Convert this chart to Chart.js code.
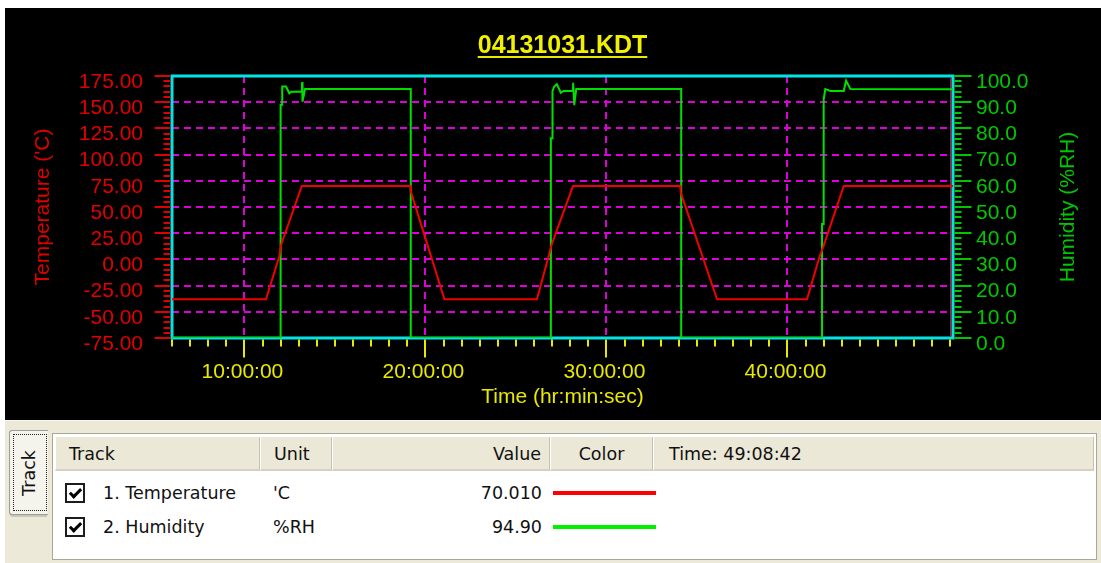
<!DOCTYPE html>
<html>
<head>
<meta charset="utf-8">
<title>04131031.KDT</title>
<script src="https://cdn.jsdelivr.net/npm/chart.js@4.4.1/dist/chart.umd.min.js"></script>
<style>
  body { margin: 0; width: 1101px; height: 563px; overflow: hidden; position: relative; background: #fff; font-family: "DejaVu Sans", sans-serif; }
  #caixaGrafico { position: absolute; left: 5px; top: 8px; width: 1096px; height: 412px; background: #000; }
  #painel { position: absolute; left: 5px; top: 420px; width: 1096px; height: 143px; background: #ece9d8; border-top: 1px solid #f8f7f0; box-sizing: border-box; }
  #aba { position: absolute; left: 9px; top: 430px; width: 39px; height: 85px; background: #f4f3ec; border: 1px solid #9a9f9c; border-right: none; border-radius: 3px 0 0 3px; box-sizing: border-box; box-shadow: 0 3px 0 -1px #c9c6b6; }
  #aba .foco { position: absolute; left: 3px; top: 3px; right: 1px; bottom: 3px; border: 1px dotted #222; }
  #aba span { position: absolute; left: 50%; top: 50%; transform: translate(-50%, -50%) rotate(-90deg); font-size: 17.5px; color: #111; white-space: nowrap; }
  #tabela { position: absolute; left: 52px; top: 433px; width: 1045px; height: 127px; background: #fff; border: 1px solid #aca899; box-sizing: border-box; }
  .cab { position: absolute; top: 437px; height: 34px; line-height: 34px; background: #ebe8d7; border-left: 1px solid #fff; border-right: 1px solid #c5c2b2; border-bottom: 2px solid #d6d2c2; box-sizing: border-box; font-size: 17.5px; color: #111; white-space: nowrap; }
  .lin { position: absolute; height: 22px; line-height: 22px; font-size: 17.5px; color: #111; white-space: nowrap; }
  .caixa { position: absolute; left: 65px; width: 20px; height: 20px; border: 2px solid #1c1c1c; box-sizing: border-box; background: #fff; }
  .caixa::after { content: ""; position: absolute; left: 5px; top: 1px; width: 4px; height: 9px; border: solid #000; border-width: 0 3px 3px 0; transform: rotate(45deg); }
  .cor { position: absolute; left: 553px; width: 103px; height: 4px; }
</style>
</head>
<body>
<div id="caixaGrafico"><canvas id="grafico"></canvas></div>

<div id="painel"></div>
<div id="aba"><div class="foco"></div><span>Track</span></div>
<div id="tabela"></div>
<div class="cab" style="left:55px;width:205px;padding-left:13px">Track</div>
<div class="cab" style="left:260px;width:72px;padding-left:13px">Unit</div>
<div class="cab" style="left:332px;width:218px;text-align:right;padding-right:8px">Value</div>
<div class="cab" style="left:550px;width:103px;text-align:center">Color</div>
<div class="cab" id="cabTempo" style="left:653px;width:441px;padding-left:15px">Time:</div>

<div class="caixa" style="top:483px"></div>
<div class="lin" style="left:103px;top:482px">1. Temperature</div>
<div class="lin" style="left:273px;top:482px">'C</div>
<div class="lin" id="valorTemp" style="left:442px;top:482px;width:100px;text-align:right"></div>
<div class="cor" style="top:491px;background:#ff0000"></div>

<div class="caixa" style="top:517px"></div>
<div class="lin" style="left:103px;top:516px">2. Humidity</div>
<div class="lin" style="left:273px;top:516px">%RH</div>
<div class="lin" id="valorUmid" style="left:442px;top:516px;width:100px;text-align:right"></div>
<div class="cor" style="top:525px;background:#00f000"></div>

<script>
// tempo em horas desde o inicio do registro
const inicioHoras = 6;
const fimHoras = 49.145;
const marcasTempo = [10, 20, 30, 40];

const horasTemp = [6, 11.19, 11.93, 12.03, 13.17, 19.18, 19.19, 21.05, 26.16, 26.82, 26.97, 28.15, 34.08, 34.1, 36.11, 41.08, 41.78, 41.98, 43.11, 49.145];
const valoresTemp = [-38, -38, 3, 14, 70, 70, 65, -38, -38, 4, 14, 70, 70, 64, -38, -38, 3, 12, 70, 70.01];

const horasUmid = [6, 12.0, 12.0, 12.09, 12.09, 12.30, 12.48, 12.58, 13.17, 13.19, 13.21, 13.35, 19.19, 19.19,
    26.93, 26.93, 27.02, 27.02, 27.11, 27.26, 27.48, 27.63, 28.15, 28.16, 28.22, 28.33, 34.13, 34.13,
    41.91, 41.91, 42.0, 42.0, 42.09, 42.37, 43.11, 43.24, 43.48, 49.145];
const valoresUmid = [0, 0, 89, 89, 96, 96, 93.4, 94, 94, 97.7, 90.2, 95, 95, 0,
    0, 76.2, 76.2, 94.3, 95.9, 96.9, 93.6, 94.3, 94.3, 97.4, 88.9, 95, 95, 0,
    0, 43.5, 43.5, 91.1, 95, 94.3, 94.3, 98.2, 95, 94.9];

const fonte = '"Liberation Sans", Arial, sans-serif';
const amarelo = '#e8e800';
const vermelho = '#e00000';
const verde = '#00c800';
const magenta = '#dd00dd';
const ciano = '#00e4e4';

function pontos(horas, valores) {
    return horas.map((h, i) => ({ x: h, y: valores[i] }));
}

function formatarHora(h) {
    const seg = Math.round(h * 3600);
    const pad = n => String(n).padStart(2, '0');
    return pad(Math.floor(seg / 3600)) + ':' + pad(Math.floor(seg / 60) % 60) + ':' + pad(seg % 60);
}

function linha(ctx, x1, y1, x2, y2) {
    ctx.beginPath();
    ctx.moveTo(x1, y1);
    ctx.lineTo(x2, y2);
    ctx.stroke();
}

// moldura ciano, tracos menores dos eixos, titulo da direita e sublinhado
const pluginMoldura = {
    id: 'moldura',
    beforeDatasetsDraw(chart) {
        const { ctx, chartArea: a } = chart;
        ctx.save();
        ctx.strokeStyle = ciano;
        ctx.lineWidth = 3;
        ctx.strokeRect(a.left, a.top, a.right - a.left, a.bottom - a.top);
        ctx.strokeStyle = '#e00030';
        ctx.lineWidth = 1;
        linha(ctx, a.right - 2.5, a.top + 1.5, a.right - 2.5, a.bottom - 1.5);
        ctx.restore();
    },
    afterDraw(chart) {
        const { ctx, chartArea: a, scales } = chart;
        ctx.save();
        ctx.lineWidth = 2;

        ctx.strokeStyle = vermelho;
        for (let v = scales.yT.min; v <= scales.yT.max; v += 5) {
            const y = Math.round(scales.yT.getPixelForValue(v));
            const comp = v % 25 === 0 ? 16 : 7;
            linha(ctx, a.left - 1.5 - comp, y, a.left - 1.5, y);
        }

        ctx.strokeStyle = verde;
        for (let v = scales.yH.min; v <= scales.yH.max; v += 2) {
            const y = Math.round(scales.yH.getPixelForValue(v));
            const comp = v % 10 === 0 ? 17 : 7;
            linha(ctx, a.right + 1.5, y, a.right + 1.5 + comp, y);
        }

        ctx.strokeStyle = amarelo;
        for (let h = Math.ceil(scales.x.min); h <= scales.x.max; h++) {
            const x = Math.round(scales.x.getPixelForValue(h));
            const comp = h % 10 === 0 ? 18 : 7;
            linha(ctx, x, a.bottom + 1.5, x, a.bottom + 1.5 + comp);
        }

        ctx.translate(1063, (a.top + a.bottom) / 2);
        ctx.rotate(-Math.PI / 2);
        ctx.fillStyle = verde;
        ctx.font = '21px ' + fonte;
        ctx.textAlign = 'center';
        ctx.textBaseline = 'middle';
        ctx.fillText('Humidity (%RH)', 0, 0);
        ctx.restore();

        const titulo = chart.options.plugins.title;
        ctx.save();
        ctx.font = 'bold 25px ' + fonte;
        const larg = ctx.measureText(titulo.text).width;
        const cx = (a.left + a.right) / 2;
        ctx.strokeStyle = amarelo;
        ctx.lineWidth = 2;
        linha(ctx, cx - larg / 2, 49, cx + larg / 2, 49);
        ctx.restore();
    }
};

new Chart(document.getElementById('grafico'), {
    type: 'line',
    data: {
        datasets: [{
            label: 'Temperature',
            data: pontos(horasTemp, valoresTemp),
            yAxisID: 'yT',
            borderColor: '#f00000',
            borderWidth: 2,
            pointRadius: 0,
            tension: 0
        }, {
            label: 'Humidity',
            data: pontos(horasUmid, valoresUmid),
            yAxisID: 'yH',
            borderColor: '#00e000',
            borderWidth: 2,
            pointRadius: 0,
            tension: 0
        }]
    },
    options: {
        responsive: true,
        maintainAspectRatio: false,
        animation: false,
        layout: { padding: 0, autoPadding: false },
        plugins: {
            legend: { display: false },
            tooltip: { enabled: false },
            title: {
                display: true,
                text: '04131031.KDT',
                color: '#f0f000',
                fullSize: false,
                font: { family: fonte, size: 25, weight: 'bold' },
                padding: { top: 23, bottom: 15 }
            }
        },
        scales: {
            x: {
                type: 'linear',
                position: 'bottom',
                min: inicioHoras,
                max: fimHoras,
                afterBuildTicks: escala => { escala.ticks = marcasTempo.map(v => ({ value: v })); },
                afterFit: escala => { escala.height = 82; },
                ticks: {
                    color: amarelo,
                    font: { family: fonte, size: 21 },
                    padding: 22,
                    labelOffset: -2,
                    maxRotation: 0,
                    autoSkip: false,
                    callback: v => v + ':00:00'
                },
                grid: { color: magenta, lineWidth: 2, drawTicks: false },
                border: { display: false, dash: [7, 5] },
                title: {
                    display: true,
                    text: 'Time (hr:min:sec)',
                    color: amarelo,
                    font: { family: fonte, size: 21 },
                    padding: { top: 0, bottom: 10 }
                }
            },
            yT: {
                position: 'left',
                min: -75,
                max: 175,
                afterFit: escala => { escala.width = 167; },
                ticks: {
                    stepSize: 25,
                    autoSkip: false,
                    color: vermelho,
                    font: { family: fonte, size: 21 },
                    padding: 29,
                    labelOffset: 6,
                    callback: v => v.toFixed(2)
                },
                grid: {
                    color: c => (c.tick && (c.tick.value === -75 || c.tick.value === 175)) ? 'rgba(0,0,0,0)' : magenta,
                    lineWidth: 2,
                    drawTicks: false
                },
                border: { display: false, dash: [7, 5] },
                title: {
                    display: true,
                    text: "Temperature ('C)",
                    color: vermelho,
                    font: { family: fonte, size: 21 },
                    padding: { top: 26, bottom: 0 }
                }
            },
            yH: {
                position: 'right',
                min: 0,
                max: 100,
                afterFit: escala => { escala.width = 148; },
                ticks: {
                    stepSize: 10,
                    autoSkip: false,
                    color: verde,
                    font: { family: fonte, size: 21 },
                    padding: 23,
                    labelOffset: 6,
                    callback: v => v.toFixed(1)
                },
                grid: { display: false, drawTicks: false },
                border: { display: false }
            }
        }
    },
    plugins: [pluginMoldura]
});

document.getElementById('valorTemp').textContent = valoresTemp[valoresTemp.length - 1].toFixed(3);
document.getElementById('valorUmid').textContent = valoresUmid[valoresUmid.length - 1].toFixed(2);
document.getElementById('cabTempo').textContent = 'Time: ' + formatarHora(fimHoras);
</script>
</body>
</html>
